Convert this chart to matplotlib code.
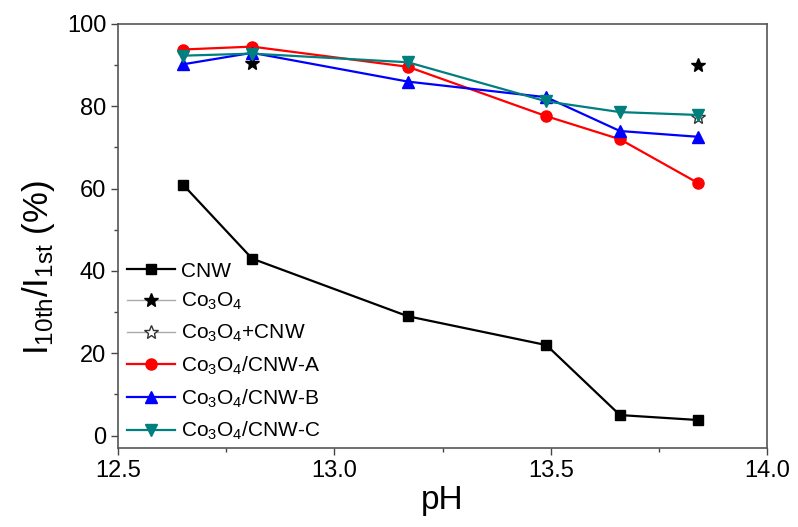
import numpy as np
import matplotlib
matplotlib.use('Agg')
import matplotlib.pyplot as plt
from matplotlib.ticker import MultipleLocator, FormatStrFormatter
from matplotlib.lines import Line2D

plt.rcParams['font.family'] = ['Liberation Sans', 'DejaVu Sans']
plt.rcParams['mathtext.fontset'] = 'custom'
plt.rcParams['mathtext.rm'] = 'Liberation Sans'
plt.rcParams['mathtext.it'] = 'Liberation Sans'

# pH values of the stability tests
ph = [12.65, 12.81, 13.17, 13.49, 13.66, 13.84]

# retention I10th/I1st (%) for each electrode
cnw = [61.0, 43.0, 29.0, 22.0, 5.0, 3.8]
co_a = [93.8, 94.5, 89.6, 77.6, 72.0, 61.4]
co_b = [90.2, 93.0, 86.0, 82.2, 74.0, 72.6]
co_c = [92.3, 92.8, 90.7, 81.2, 78.6, 77.9]

# bare Co3O4 and the physical mixture, measured at few points only
co3o4_ph = [12.81, 13.84]
co3o4 = [90.5, 90.0]
mix_ph = [13.84]
mix = [77.5]

fig = plt.figure(figsize=(7.98, 5.27), dpi=100)
ax = fig.add_axes([0.1479, 0.1499, 0.8133, 0.8046])

ax.plot(ph, cnw, '-s', color='black', lw=1.6, ms=7, label='CNW')
ax.plot(co3o4_ph, co3o4, linestyle='none', marker='*', color='black', ms=10,
        label=r'Co$_3$O$_4$')
ax.plot(mix_ph, mix, linestyle='none', marker='*', mfc='white', mec='#333333',
        ms=10, label=r'Co$_3$O$_4$+CNW')
ax.plot(ph, co_a, '-o', color='#ff0000', lw=1.6, ms=8, label=r'Co$_3$O$_4$/CNW-A')
ax.plot(ph, co_b, '-^', color='#0000ff', lw=1.6, ms=9, label=r'Co$_3$O$_4$/CNW-B')
ax.plot(ph, co_c, '-v', color='#007f7f', lw=1.6, ms=9, label=r'Co$_3$O$_4$/CNW-C')

ax.set_xlim(12.5, 14.0)
ax.set_ylim(-3, 100)
ax.xaxis.set_major_locator(MultipleLocator(0.5))
ax.xaxis.set_minor_locator(MultipleLocator(0.25))
ax.yaxis.set_major_locator(MultipleLocator(20))
ax.yaxis.set_minor_locator(MultipleLocator(10))
ax.xaxis.set_major_formatter(FormatStrFormatter('%.1f'))

ax.tick_params(which='both', direction='out', colors='#444444', labelcolor='black',
               labelsize=17, top=False, right=False)
ax.tick_params(which='major', length=5, width=1)
ax.tick_params(which='minor', length=3, width=1)
for s in ax.spines.values():
    s.set_color('#555555')
    s.set_linewidth(1.2)

ax.set_xlabel('pH', fontsize=24, labelpad=2)
ax.set_ylabel(r'I$_{\mathrm{10th}}$/I$_{\mathrm{1st}}$ (%)', fontsize=25)
ax.yaxis.set_label_coords(-0.094, 0.425)

# legend handles: the two single-point samples get a thin grey line
handles, labels = ax.get_legend_handles_labels()
handles[1] = Line2D([], [], color='#aaaaaa', lw=1, marker='*', mfc='black',
                    mec='black', ms=10)
handles[2] = Line2D([], [], color='#aaaaaa', lw=1, marker='*', mfc='white',
                    mec='#333333', ms=10)
ax.legend(handles, labels, loc='lower left', bbox_to_anchor=(-0.005, -0.016),
          frameon=False, fontsize=15, handlelength=2.3, handletextpad=0.3,
          labelspacing=0.5, borderaxespad=0.2)

fig.savefig('out.png', dpi=100)
